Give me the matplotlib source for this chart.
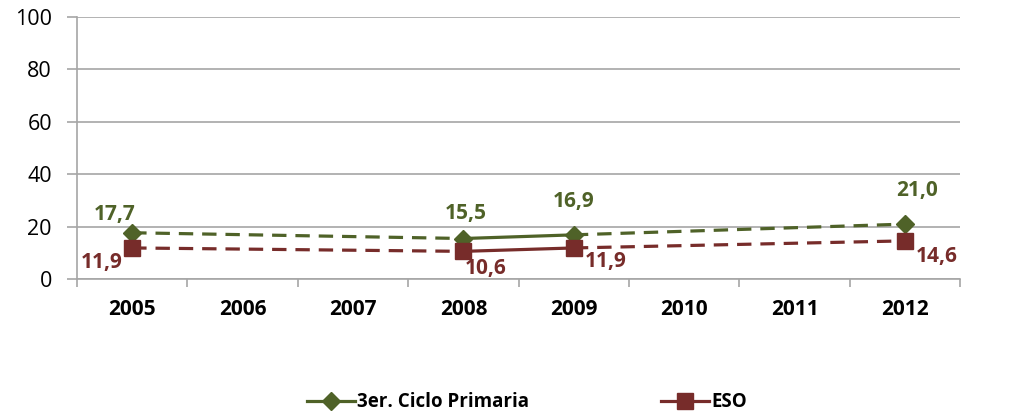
import numpy as np
import matplotlib.pyplot as plt
from matplotlib.lines import Line2D

years = ["2005", "2006", "2007", "2008", "2009", "2010", "2011", "2012"]
primaria = [17.7, None, None, 15.5, 16.9, None, None, 21.0]
eso = [11.9, None, None, 10.6, 11.9, None, None, 14.6]
primaria_lbl = ["17,7", "15,5", "16,9", "21,0"]
eso_lbl = ["11,9", "10,6", "11,9", "14,6"]

GREEN = "#4F6228"
RED = "#772C2A"
GRID = "#A6A6A6"

plt.rcParams["font.family"] = ["Open Sans", "DejaVu Sans"]

fig = plt.figure(figsize=(10.13, 4.16), dpi=100)
ax = fig.add_axes([0.076, 0.329, 0.872, 0.630])


def draw_series(vals, color, marker, ms, labels, offsets):
    idx = [i for i, v in enumerate(vals) if v is not None]
    for a, b in zip(idx[:-1], idx[1:]):
        ls = "-" if b - a == 1 else (0, (4.5, 2.8))
        ax.plot([a, b], [vals[a], vals[b]], color=color, lw=2.3, ls=ls,
                solid_capstyle="butt", zorder=3)
    ax.plot(idx, [vals[i] for i in idx], ls="none", marker=marker, ms=ms,
            color=color, mec=color, zorder=4)
    for i, lab, off in zip(idx, labels, offsets):
        ax.annotate(lab, (i, vals[i]), xytext=off, textcoords="offset pixels",
                    ha="center", va="center", color=color, fontsize=15,
                    fontweight="bold", zorder=5)


draw_series(primaria, GREEN, "D", 9.5, primaria_lbl,
            [(-18, 18), (2, 25), (0, 33), (12, 34)])
draw_series(eso, RED, "s", 12, eso_lbl,
            [(-30, -15), (22, -17), (32, -14), (32, -16)])

ax.set_xlim(-0.5, len(years) - 0.5)
ax.set_ylim(0, 100)
ax.set_yticks(np.arange(0, 101, 20))
ax.set_xticks(np.arange(len(years)))
ax.set_xticklabels(years, fontweight="bold", fontsize=15)
ax.set_xticks(np.arange(len(years) + 1) - 0.5, minor=True)
ax.tick_params(axis="x", which="major", length=0, pad=14)
ax.tick_params(axis="x", which="minor", length=6, color=GRID, width=1.2)
ax.tick_params(axis="y", length=7, color=GRID, width=1.2, labelsize=15.5, pad=11)
ax.grid(axis="y", color=GRID, lw=1.2)
ax.set_axisbelow(True)
for s in ["top", "right"]:
    ax.spines[s].set_visible(False)
for s in ["left", "bottom"]:
    ax.spines[s].set_color(GRID)
    ax.spines[s].set_linewidth(1.2)

handles = [
    Line2D([], [], color=GREEN, lw=2.3, marker="D", ms=9.5),
    Line2D([], [], color=RED, lw=2.3, marker="s", ms=12),
]
fig.legend(handles, ["3er. Ciclo Primaria", "ESO"], loc="center",
           bbox_to_anchor=(0.52, 0.033), ncol=2, frameon=False,
           prop={"weight": "bold", "size": 13.5}, handlelength=2.6,
           handletextpad=0.1, columnspacing=7.0)

fig.savefig("out.png", dpi=100)
